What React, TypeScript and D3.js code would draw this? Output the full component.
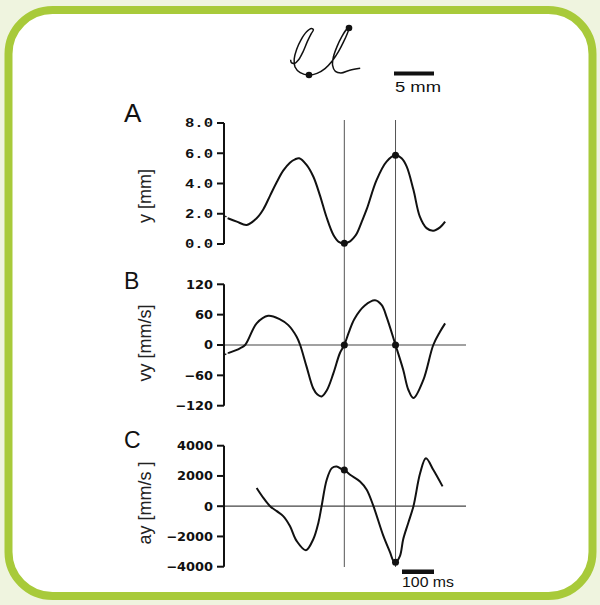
import React from "react";
import * as d3 from "d3";

// ---- Data ----
const posT = [4, 12, 40, 71, 102, 123, 144, 165, 185, 206, 222, 235, 258, 279, 300, 320, 342, 360, 376, 394, 405, 415, 430, 446, 477, 508, 536, 555, 571, 592, 612, 633, 654, 675, 691];
const posY = [1.85, 1.7, 1.48, 1.26, 1.7, 2.3, 3.2, 4.1, 4.85, 5.38, 5.6, 5.67, 5.23, 4.46, 3.2, 1.8, 0.6, 0.12, 0.05, 0.18, 0.4, 0.7, 1.45, 2.3, 4.24, 5.45, 5.86, 5.67, 5.12, 3.58, 1.81, 1.05, 0.88, 1.1, 1.48];

const velT = [3, 13, 50, 66, 102, 138, 175, 201, 227, 238, 258, 279, 292, 305, 321, 342, 362, 376, 390, 408, 440, 472, 493, 508, 536, 560, 576, 592, 623, 654, 675, 691];
const velY = [-19, -16, -6.5, 0, 42.7, 57.7, 50.6, 39.3, 16.3, 0, -42.7, -86, -98, -101.7, -90, -55.7, -16.3, 0, 25, 52, 78, 88.5, 78.7, 55.7, 0, -49, -88.5, -104.9, -68.9, 0, 26, 42.7];

const accT = [102, 123, 144, 165, 185, 206, 227, 256, 279, 295, 305, 321, 337, 352, 368, 376, 394, 425, 446, 467, 498, 519, 529, 536, 550, 560, 576, 592, 613, 631, 654, 683];
const accY = [1207, 551, 0, -328, -656, -1312, -2296, -2906, -2184, -1090, 0, 1750, 2518, 2624, 2454, 2400, 2080, 1640, 1095, 0, -1968, -3060, -3608, -3713, -3280, -2184, -1090, 0, 2191, 3175, 2407, 1312];

const markerTimes = [376, 536];

const posTicks = [0, 2, 4, 6, 8];
const posTickLabels = ["0.0", "2.0", "4.0", "6.0", "8.0"];
const velTicks = [-120, -60, 0, 60, 120];
const velTickLabels = ["\u2212120", "\u221260", "0", "60", "120"];
const accTicks = [-4000, -2000, 0, 2000, 4000];
const accTickLabels = ["\u22124000", "\u22122000", "0", "2000", "4000"];

// handwriting trace (mm, origin at lowest point)
const penX = [-2.3, -2.2, -1.8, -1.3, -0.75, -0.2, 0.3, 0.55, 0.3, -0.3, -1.0, -1.55, -1.85, -1.75, -1.1, 0, 1.0, 2.0, 2.9, 3.7, 4.3, 4.75, 5.0, 4.7, 4.1, 3.5, 3.05, 2.95, 3.3, 4.0, 5.1, 6.4];
const penY = [1.9, 1.55, 1.45, 1.9, 2.9, 4.2, 5.2, 5.65, 5.8, 5.4, 4.4, 3.2, 2.0, 1.0, 0.3, 0, 0.2, 0.8, 1.75, 2.95, 4.1, 5.1, 5.875, 5.7, 4.8, 3.55, 2.25, 1.2, 0.45, 0.25, 0.6, 0.85];
const penDots = [[0, 0], [5.0, 5.875]];

const panelLetters = ["A", "B", "C"];
const axisTitles = ["y [mm]", "vy [mm/s]", "ay [mm/s ]"];

export default function App() {
  const W = 600, H = 605;
  const x = d3.scaleLinear().domain([0, 700]).range([224, 448]);
  const yA = d3.scaleLinear().domain([0, 8]).range([244, 123]);
  const yB = d3.scaleLinear().domain([-120, 120]).range([405.7, 284.3]);
  const yC = d3.scaleLinear().domain([-4000, 4000]).range([566.7, 445.7]);
  const px = d3.scaleLinear().domain([0, 5]).range([309, 349]);
  const py = d3.scaleLinear().domain([0, 5]).range([75, 35]);

  const mkLine = (ys: d3.ScaleLinear<number, number>) =>
    d3.line<[number, number]>().x(d => x(d[0])).y(d => ys(d[1])).curve(d3.curveCatmullRom.alpha(0.5));

  const panels = [
    { t: posT, v: posY, y: yA, ticks: posTicks, labels: posTickLabels, mono: true, zero: false, dotted: true, letterY: 122, letterSize: 26, titleY: 196 },
    { t: velT, v: velY, y: yB, ticks: velTicks, labels: velTickLabels, mono: false, zero: true, dotted: true, letterY: 289, letterSize: 23, titleY: 343 },
    { t: accT, v: accY, y: yC, ticks: accTicks, labels: accTickLabels, mono: false, zero: true, dotted: false, letterY: 448, letterSize: 23, titleY: 503 },
  ];

  const penLine = d3.line<number>().x((_, i) => px(penX[i])).y((_, i) => py(penY[i])).curve(d3.curveCatmullRom.alpha(0.5));

  return (
    <svg width={W} height={H} style={{ position: "absolute", left: 0, top: 0 }} fontFamily="'Liberation Sans', Arial, sans-serif">
      <rect x={0} y={0} width={W} height={H} fill="#eff4df" />
      <rect x={8.5} y={10} width={584} height={586} rx={44} ry={44} fill="#ffffff" stroke="#a8ca3a" strokeWidth={8} />

      {/* handwriting */}
      <path d={penLine(penX) || ""} fill="none" stroke="#111" strokeWidth={1.5} />
      {penDots.map((d, i) => (
        <circle key={i} cx={px(d[0])} cy={py(d[1])} r={3.3} fill="#111" />
      ))}
      <rect x={394} y={71.5} width={px(5) - px(0)} height={4} fill="#111" />
      <text x={395} y={92} fontSize={14} fill="#111" textLength={46} lengthAdjust="spacingAndGlyphs">5 mm</text>

      {/* vertical marker lines */}
      {markerTimes.map((t, i) => (
        <line key={i} x1={x(t)} x2={x(t)} y1={120} y2={567} stroke="#555" strokeWidth={1} />
      ))}

      {panels.map((p, pi) => {
        const [d0, d1] = p.y.domain();
        const data: [number, number][] = p.t.map((t, i) => [t, p.v[i]]);
        const line = mkLine(p.y);
        const head = data.slice(0, 2);
        const body = p.dotted ? data.slice(1) : data;
        return (
          <g key={pi}>
            <text x={124} y={p.letterY} fontSize={p.letterSize} fill="#111">{panelLetters[pi]}</text>
            <text transform={`translate(151,${p.titleY}) rotate(-90)`} textAnchor="middle" fontSize={18} fill="#222">{axisTitles[pi]}</text>
            {p.zero && (
              <line x1={224} x2={466} y1={p.y(0)} y2={p.y(0)} stroke="#444" strokeWidth={1.2} />
            )}
            <line x1={224} x2={224} y1={p.y(d1)} y2={p.y(d0)} stroke="#111" strokeWidth={2} />
            {p.ticks.map((tk, i) => (
              <g key={i}>
                <line x1={217} x2={224} y1={p.y(tk)} y2={p.y(tk)} stroke="#111" strokeWidth={2} />
                <text
                  transform={`translate(213,${p.y(tk)}) scale(${p.mono ? 1.3 : 1.08},1)`}
                  textAnchor="end"
                  dy="0.36em"
                  fontSize={12}
                  fontWeight="bold"
                  fontFamily={p.mono ? "'Liberation Mono', 'Courier New', monospace" : "'DejaVu Sans', Verdana, sans-serif"}
                  fill="#111"
                >{p.labels[i]}</text>
              </g>
            ))}
            {p.dotted && (
              <path d={line(head) || ""} fill="none" stroke="#111" strokeWidth={1.4} strokeDasharray="1.5,1.5" />
            )}
            <path d={line(body) || ""} fill="none" stroke="#111" strokeWidth={2} />
            {markerTimes.map((t, i) => {
              const idx = p.t.indexOf(t);
              return <circle key={i} cx={x(t)} cy={p.y(p.v[idx])} r={3.5} fill="#111" />;
            })}
          </g>
        );
      })}

      {/* time scale bar */}
      <rect x={402} y={569.5} width={x(100) - x(0)} height={4.5} fill="#111" />
      <text x={402} y={587} fontSize={15} fill="#111" textLength={52} lengthAdjust="spacingAndGlyphs">100 ms</text>
    </svg>
  );
}
